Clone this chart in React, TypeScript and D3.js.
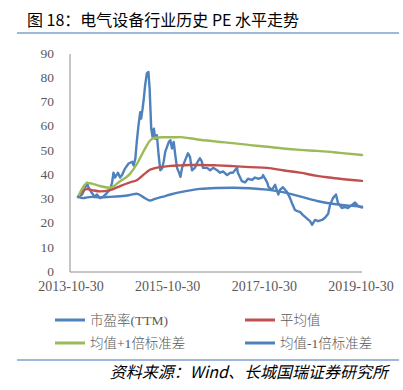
import React from 'react';
import * as d3 from 'd3';

const titleText = '图 18：电气设备行业历史 PE 水平走势';
const sourceText = '资料来源：Wind、长城国瑞证券研究所';

const peDates = [
  '2013-12-22','2014-01-22','2014-02-14','2014-02-28','2014-03-10','2014-04-06','2014-04-28','2014-05-13',
  '2014-06-06','2014-06-28','2014-07-28','2014-08-20','2014-09-05','2014-09-16','2014-09-27','2014-10-20',
  '2014-11-05','2014-11-20','2014-12-12','2015-01-08','2015-02-04','2015-02-15','2015-02-28','2015-03-11',
  '2015-03-24','2015-04-06','2015-04-13','2015-04-24','2015-05-03','2015-05-13','2015-05-26','2015-06-07',
  '2015-06-16','2015-06-28','2015-07-08','2015-07-18','2015-07-28','2015-08-10','2015-08-23','2015-09-05',
  '2015-09-18','2015-09-30','2015-10-12','2015-11-08','2015-11-20','2015-12-02','2015-12-15','2015-12-27',
  '2016-01-09','2016-01-22','2016-02-04','2016-02-16','2016-03-09','2016-04-01','2016-04-16','2016-05-01',
  '2016-05-23','2016-06-08','2016-06-30','2016-07-15','2016-07-23','2016-08-23','2016-09-15','2016-10-08',
  '2016-11-07','2016-11-30','2016-12-22','2017-01-22','2017-02-14','2017-03-06','2017-04-06','2017-04-13',
  '2017-05-13','2017-06-06','2017-06-28','2017-07-28','2017-08-20','2017-09-13','2017-10-12','2017-10-20',
  '2017-11-20','2017-12-01','2017-12-27','2018-01-19','2018-02-12','2018-02-26','2018-03-19','2018-04-19',
  '2018-05-11','2018-05-26','2018-06-18','2018-07-11','2018-07-26','2018-08-18','2018-09-18','2018-10-10',
  '2018-10-25','2018-11-17','2018-12-10','2019-01-09','2019-02-02','2019-02-24','2019-03-09','2019-04-01',
  '2019-04-24','2019-05-09','2019-06-08','2019-06-30','2019-07-23','2019-08-23','2019-09-15','2019-10-08',
  '2019-11-07',
];
const peValues = [
  31.0, 32.0, 34.7, 36.8, 35.0, 32.6, 31.0, 32.0,
  30.5, 31.0, 32.6, 34.0, 36.8, 41.0, 39.0, 41.0,
  39.0, 40.0, 42.7, 44.8, 45.5, 44.0, 46.8, 53.7,
  60.6, 66.0, 63.3, 67.5, 71.6, 77.0, 82.0, 82.6,
  75.7, 59.2, 55.8, 59.2, 55.0, 56.5, 48.2, 42.0,
  42.7, 45.5, 49.6, 53.7, 54.4, 51.0, 53.7, 48.2,
  43.0, 41.3, 39.3, 43.0, 46.0, 49.0, 47.5, 42.0,
  43.0, 45.0, 47.0, 45.5, 43.0, 43.0, 42.0, 43.0,
  42.0, 41.0, 41.5, 40.0, 41.0, 41.0, 43.0, 41.0,
  37.5, 37.0, 38.5, 38.0, 39.0, 38.5, 39.0, 40.0,
  37.0, 35.0, 34.0, 36.0, 32.0, 34.0, 35.0, 33.0,
  30.6, 28.5, 25.6, 25.0, 24.8, 23.5, 22.0, 21.0,
  19.5, 21.5, 21.0, 21.5, 22.5, 24.0, 27.5, 30.5,
  32.0, 28.5, 26.4, 27.0, 26.4, 27.7, 28.7, 27.2,
  26.6,
];

const bandDates = [
  '2013-12-22','2014-01-29','2014-02-28','2014-04-06','2014-06-06','2014-08-20','2014-11-05','2015-01-19',
  '2015-03-11','2015-05-11','2015-06-18','2015-07-26','2015-09-18','2015-11-20','2016-02-04','2016-04-16',
  '2016-06-30','2016-11-07','2017-03-06','2017-07-13','2017-11-20','2018-03-19','2018-07-26','2018-12-02',
  '2019-02-16','2019-05-23','2019-11-07',
];
const meanValues = [
  31.0, 33.5, 34.2, 33.8, 33.3, 33.8, 35.5, 37.0,
  37.9, 40.6, 42.2, 42.9, 43.4, 43.8, 44.0, 44.2,
  44.2, 44.0, 43.7, 43.3, 43.0, 42.0, 41.0, 39.7,
  39.1, 38.5, 37.6,
];
const upperValues = [
  31.0, 35.0, 36.8, 36.5, 35.5, 34.8, 37.5, 40.5,
  44.5, 50.8, 54.2, 55.4, 55.6, 55.6, 55.7, 55.2,
  54.6, 53.8, 53.2, 52.4, 51.7, 51.0, 50.4, 50.0,
  49.7, 49.2, 48.3,
];
const lowerValues = [
  31.0, 30.5, 30.8, 31.0, 30.8, 31.0, 31.3, 31.8,
  32.3, 30.5, 29.5, 30.2, 31.0, 32.0, 33.0, 33.7,
  34.3, 34.7, 34.8, 34.6, 34.0, 33.0, 31.2, 29.3,
  28.5, 27.8, 27.0,
];

const yTicks = [0, 10, 20, 30, 40, 50, 60, 70, 80, 90];
const xTickLabels = ['2013-10-30', '2015-10-30', '2017-10-30', '2019-10-30'];

const seriesNames = ['市盈率(TTM)', '平均值', '均值+1倍标准差', '均值-1倍标准差'];
const seriesColors = ['#4F81BD', '#C0504D', '#9BBB59', '#4F81BD'];

const W = 403;
const H = 390;
const plot = { left: 70, right: 362, top: 54, bottom: 272 };

export default function App() {
  const parse = d3.timeParse('%Y-%m-%d');
  const x = d3
    .scaleTime()
    .domain([parse(xTickLabels[0])!, parse(xTickLabels[xTickLabels.length - 1])!])
    .range([71, 361]);
  const y = d3.scaleLinear().domain([0, 90]).range([plot.bottom, plot.top]);

  const mk = (dates: string[], vals: number[], curve: d3.CurveFactory) =>
    d3
      .line<number>()
      .x((_, i) => x(parse(dates[i])!))
      .y((v) => y(v))
      .curve(curve)(vals) || '';

  const paths = [
    mk(peDates, peValues, d3.curveLinear),
    mk(bandDates, meanValues, d3.curveMonotoneX),
    mk(bandDates, upperValues, d3.curveMonotoneX),
    mk(bandDates, lowerValues, d3.curveMonotoneX),
  ];

  const serif = '"Liberation Serif", "Times New Roman", serif';
  const cjk = '"Noto Sans CJK SC", sans-serif';
  const legendPos = [
    { lx: 55, ly: 320 },
    { lx: 245, ly: 320 },
    { lx: 55, ly: 343 },
    { lx: 245, ly: 343 },
  ];

  const renderLegendLabel = (name: string) => {
    const parts = name.split(/([\u4e00-\u9fff]+)/).filter((p) => p.length);
    return parts.map((p, i) =>
      /[\u4e00-\u9fff]/.test(p) ? (
        <tspan key={i} fontFamily={cjk} fontWeight={300}>{p}</tspan>
      ) : (
        <tspan key={i} fontFamily={serif}>{p}</tspan>
      )
    );
  };

  return (
    <div style={{ position: 'absolute', left: 0, top: 0 }}>
      <svg width={W} height={H} viewBox={`0 0 ${W} ${H}`} style={{ display: 'block', background: '#fff' }}>
        <text x={27} y={26} fontFamily={cjk} fontSize={16} fill="#000">
          {titleText}
        </text>
        <line x1={17} x2={399} y1={33} y2={33} stroke="#7EA0CF" strokeWidth={1.5} />

        <line x1={plot.left} x2={plot.left} y1={plot.top} y2={plot.bottom} stroke="#8C8C8C" strokeWidth={1} />
        <line x1={plot.left} x2={plot.right} y1={plot.bottom} y2={plot.bottom} stroke="#8C8C8C" strokeWidth={1} />

        {yTicks.map((t) => (
          <text key={t} x={54} y={y(t) - 1} dy="0.35em" textAnchor="end" fontFamily={serif} fontSize={13.5} fill="#595959">
            {t}
          </text>
        ))}
        {xTickLabels.map((t) => (
          <text key={t} x={x(parse(t)!)} y={291} textAnchor="middle" fontFamily={serif} fontSize={14} fill="#595959">
            {t}
          </text>
        ))}

        {paths.map((d, i) => (
          <path key={i} d={d} fill="none" stroke={seriesColors[i]} strokeWidth={2.4} strokeLinejoin="round" strokeLinecap="round" />
        ))}

        {seriesNames.map((n, i) => (
          <g key={n}>
            <line x1={legendPos[i].lx} x2={legendPos[i].lx + 30} y1={legendPos[i].ly} y2={legendPos[i].ly} stroke={seriesColors[i]} strokeWidth={3} />
            <text x={legendPos[i].lx + 35} y={legendPos[i].ly} dy="0.35em" fontSize={13.5} fill="#595959">
              {renderLegendLabel(n)}
            </text>
          </g>
        ))}

        <line x1={17} x2={399} y1={360} y2={360} stroke="#7EA0CF" strokeWidth={1.5} />
        <text x={388} y={378} textAnchor="end" fontFamily={cjk} fontStyle="italic" fontSize={16} fill="#000">
          {sourceText}
        </text>
      </svg>
    </div>
  );
}
